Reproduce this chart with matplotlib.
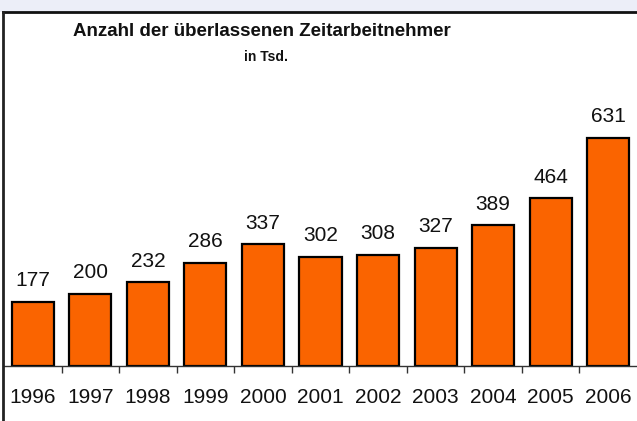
import matplotlib.pyplot as plt
from matplotlib.patches import Rectangle

years = ["1996", "1997", "1998", "1999", "2000", "2001",
         "2002", "2003", "2004", "2005", "2006"]
werte = [177, 200, 232, 286, 337, 302, 308, 327, 389, 464, 631]

plt.rcParams['font.family'] = ['Liberation Sans', 'DejaVu Sans']

fig = plt.figure(figsize=(6.37, 4.21), dpi=100)
fig.patch.set_facecolor('white')

# light strip on top and framed box
fig.patches.append(Rectangle((0, 1 - 12 / 421), 1, 12 / 421, transform=fig.transFigure,
                             facecolor='#ECEEF8', edgecolor='none', zorder=0))
fig.add_artist(plt.Line2D([3 / 637, 1], [1 - 12 / 421, 1 - 12 / 421],
                          transform=fig.transFigure, color='#111111', lw=2))
fig.add_artist(plt.Line2D([3 / 637, 3 / 637], [0, 1 - 12 / 421],
                          transform=fig.transFigure, color='#222222', lw=2))

ax = fig.add_axes([4 / 637, 55 / 421, 633 / 637, 253 / 421])
x = range(len(years))
bars = ax.bar(x, werte, width=0.73, color='#FA6400', edgecolor='black', linewidth=1.6)
for xi, v in zip(x, werte):
    ax.text(xi, v + 32, str(v), ha='center', va='bottom', fontsize=15, color='#111111')

ax.set_xlim(-0.5, len(years) - 0.5)
ax.set_ylim(0, 700)
ax.set_yticks([])
ax.set_xticks([i + 0.5 for i in range(len(years) - 1)], minor=False)
ax.set_xticklabels([])
ax.tick_params(axis='x', length=5, width=1, color='#333333', direction='out')
for xi, yr in zip(x, years):
    ax.text(xi, -0.085, yr, transform=ax.get_xaxis_transform(), ha='center', va='top',
            fontsize=15, color='#111111')

for s in ['top', 'right', 'left']:
    ax.spines[s].set_visible(False)
ax.spines['bottom'].set_color('#333333')
ax.spines['bottom'].set_linewidth(1)

fig.text(262 / 637, 1 - 32 / 421, "Anzahl der überlassenen Zeitarbeitnehmer",
         ha='center', va='center', fontsize=13.5, fontweight='bold', color='#111111')
fig.text(266 / 637, 1 - 57 / 421, "in Tsd.", ha='center', va='center',
         fontsize=10, fontweight='bold', color='#111111')

fig.savefig('out.png', dpi=100)
